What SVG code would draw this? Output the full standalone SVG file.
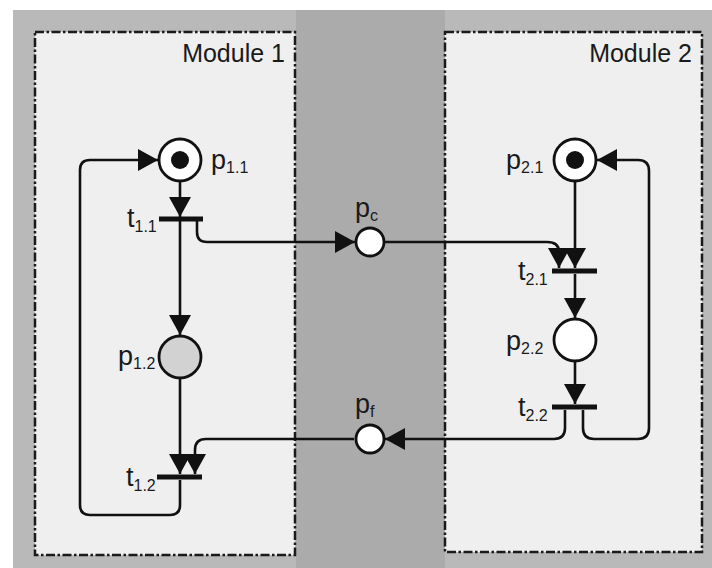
<svg xmlns="http://www.w3.org/2000/svg" width="712" height="568" viewBox="0 0 712 568">
<style>
.bg{fill:#b9b9b9}
.mid{fill:#ababab}
.mod{fill:#efefef;stroke:#1a1a1a;stroke-width:2.5;stroke-dasharray:9 2.5 2.5 2.5}
.pl{fill:#ffffff;stroke:#111;stroke-width:2.8}
.bar{fill:#111}
.arc{fill:none;stroke:#111;stroke-width:2.6}
.lbl{font-family:"Liberation Sans",Arial,sans-serif;font-size:27px;fill:#1a1a1a}
.sub{font-size:16px}
.mt{font-family:"Liberation Sans",Arial,sans-serif;font-size:25px;fill:#1a1a1a}
</style>
<defs>
<marker id="ah" markerUnits="userSpaceOnUse" markerWidth="20" markerHeight="22" viewBox="0 0 20 22" refX="20" refY="11" orient="auto">
<path d="M0,0 L20,11 L0,22 Z" fill="#111"/>
</marker>
</defs>
<rect x="13" y="10" width="699" height="558" class="bg"/>
<rect x="296" y="10" width="149" height="558" class="mid"/>
<g id="module1">
<rect x="35" y="32" width="260" height="523" class="mod"/>
<text x="285" y="62" class="mt" text-anchor="end">Module 1</text>
</g>
<g id="module2">
<rect x="445" y="32" width="257" height="520" class="mod"/>
<text x="692" y="62" class="mt" text-anchor="end">Module 2</text>
</g>
<g id="connectors">
<path class="arc" marker-end="url(#ah)" d="M180,182 L180,217"/>
<path class="arc" marker-end="url(#ah)" d="M180,221 L180,335"/>
<path class="arc" marker-end="url(#ah)" d="M197,221 L197,232 Q197,242 207,242 L355,242"/>
<path class="arc" marker-end="url(#ah)" d="M385,242 L547,242 Q559,242 559,252 L559,268"/>
<path class="arc" marker-end="url(#ah)" d="M575,182 L575,268"/>
<path class="arc" marker-end="url(#ah)" d="M575,274 L575,318"/>
<path class="arc" marker-end="url(#ah)" d="M575,362 L575,404"/>
<path class="arc" marker-end="url(#ah)" d="M565,410 L565,428 Q565,439 554,439 L385,439"/>
<path class="arc" marker-end="url(#ah)" d="M583,410 L583,428 Q583,439 594,439 L638,439 Q649,439 649,428 L649,171 Q649,160 638,160 L597,160"/>
<path class="arc" marker-end="url(#ah)" d="M354,439 L206,439 Q195,439 195,450 L195,474"/>
<path class="arc" marker-end="url(#ah)" d="M180,379 L180,474"/>
<path class="arc" marker-end="url(#ah)" d="M180,480 L180,505 Q180,515 170,515 L90,515 Q80,515 80,505 L80,170 Q80,160 90,160 L158,160"/>
</g>
<g id="p1_1">
<circle cx="180" cy="160" r="21" class="pl"/>
<circle cx="180" cy="160" r="9" fill="#111"/>
<text x="211" y="169" class="lbl">p<tspan class="sub" dy="4">1.1</tspan></text>
</g>
<g id="t1_1">
<rect x="159" y="216.5" width="44" height="5" class="bar"/>
<text x="127" y="227" class="lbl">t<tspan class="sub" dy="5">1.1</tspan></text>
</g>
<g id="p1_2">
<circle cx="180" cy="357" r="21" class="pl" style="fill:#d2d2d2"/>
<text x="118" y="365" class="lbl">p<tspan class="sub" dy="4">1.2</tspan></text>
</g>
<g id="t1_2">
<rect x="157" y="474.5" width="45" height="5" class="bar"/>
<text x="126" y="486" class="lbl">t<tspan class="sub" dy="5">1.2</tspan></text>
</g>
<g id="pc">
<circle cx="370" cy="242" r="14" class="pl"/>
<text x="355" y="217" class="lbl">p<tspan class="sub" dy="4">c</tspan></text>
</g>
<g id="pf">
<circle cx="370" cy="439" r="14" class="pl"/>
<text x="355" y="413" class="lbl">p<tspan class="sub" dy="4">f</tspan></text>
</g>
<g id="p2_1">
<circle cx="575" cy="160" r="21" class="pl"/>
<circle cx="575" cy="160" r="9" fill="#111"/>
<text x="506" y="169" class="lbl">p<tspan class="sub" dy="4">2.1</tspan></text>
</g>
<g id="t2_1">
<rect x="552" y="268.5" width="45" height="5" class="bar"/>
<text x="518" y="280" class="lbl">t<tspan class="sub" dy="5">2.1</tspan></text>
</g>
<g id="p2_2">
<circle cx="575" cy="340" r="21" class="pl"/>
<text x="506" y="350" class="lbl">p<tspan class="sub" dy="4">2.2</tspan></text>
</g>
<g id="t2_2">
<rect x="552" y="404.5" width="45" height="5" class="bar"/>
<text x="518" y="416" class="lbl">t<tspan class="sub" dy="5">2.2</tspan></text>
</g>
</svg>
